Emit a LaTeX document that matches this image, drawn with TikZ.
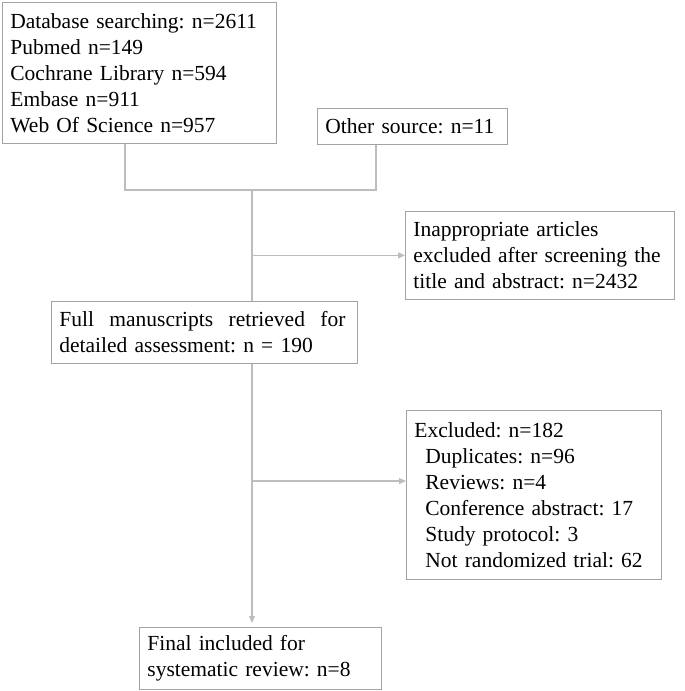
\documentclass[tikz,border=0pt]{standalone}
\usepackage{fontspec}
\setmainfont{Liberation Serif}
\usepackage{tikz}
\usetikzlibrary{shapes,arrows.meta,positioning}

\definecolor{boxgray}{HTML}{A3A3A3}
\definecolor{linegray}{HTML}{BDBDBD}
\newcommand{\exind}{\hspace*{11pt}}
\frenchspacing

\tikzset{
  box/.style={draw=boxgray, line width=0.8pt, anchor=north west, align=left,
    inner xsep=8pt, inner ysep=0pt, font=\fontsize{21.5}{26}\selectfont},
  link/.style={draw=linegray, line width=1.2pt},
  arr/.style={link, -{Triangle[length=7pt,width=6pt]}},
}

\begin{document}
\begin{tikzpicture}[x=1pt,y=-1pt]
\useasboundingbox (0,0) rectangle (685,691);

\node[box, text width=258pt, minimum height=141pt] (db) at (2,2)
  {Database searching: n=2611\\Pubmed n=149\\Cochrane Library n=594\\Embase n=911\\Web Of Science n=957};
\node[box, text width=174pt, minimum height=36pt] (other) at (317,108) {Other source: n=11};
\node[box, text width=253pt, minimum height=88pt] (inapp) at (405,211)
  {Inappropriate articles\\excluded after screening the\\title and abstract: n=2432};
\node[box, text width=290pt, minimum height=62pt] (full) at (51,301)
  {\makebox[286pt][l]{Full\hfill manuscripts\hfill retrieved\hfill for}\\detailed assessment: n = 190};
\node[box, text width=239pt, minimum height=169pt] (excl) at (406,410)
  {Excluded: n=182\\\exind Duplicates: n=96\\\exind Reviews: n=4\\\exind Conference abstract: 17\\\exind Study protocol: 3\\\exind Not randomized trial: 62};
\node[box, text width=226pt, minimum height=62pt] (final) at (139,627)
  {Final included for\\systematic review: n=8};

% joining the two sources
\coordinate (jl) at (125,190);
\coordinate (jr) at (376,190);
\coordinate (jm) at (252,190);
\coordinate (b2) at (252,481);
\draw[link] (db.south -| jl) -- (jl) -- (jr) -- (other.south -| jr);
\draw[link] (jm) -- (full.north -| jm);
\draw[arr] (jm |- inapp.west) -- (inapp.west);

% after full text
\draw[arr, shorten >=4pt] (full.south -| jm) -- (final.north -| jm);
\draw[arr] (b2) -- (b2 -| excl.west);
\end{tikzpicture}
\end{document}
